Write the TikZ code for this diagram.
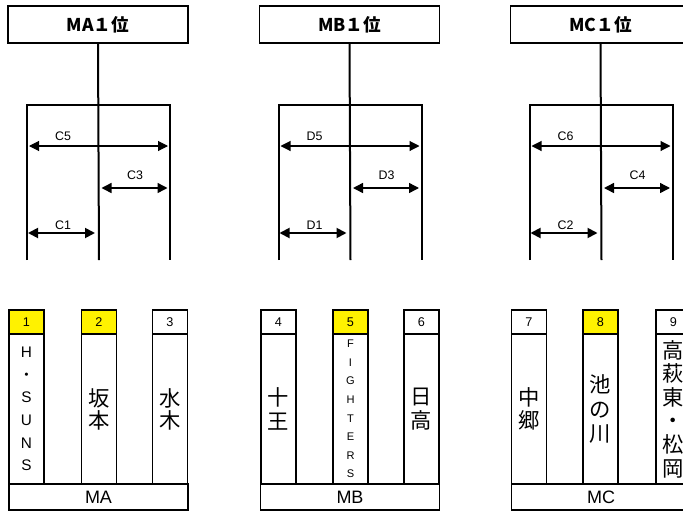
\documentclass[tikz,border=0pt]{standalone}
\usepackage{fontspec}
\setmainfont{Liberation Sans}
\newfontfamily\jp{Noto Sans CJK JP}
\usetikzlibrary{arrows.meta}
\newcommand\mycol[6]{%
  \node[hdr, fill=#4] (h#1) at (#2,322) {#3};
  \node[colbody, font=#6] (b#1) at (#2,409) {#5};
}
\begin{document}
\begin{tikzpicture}[x=0.75pt,y=-0.75pt,
  thick line/.style={line width=1.5pt},
  titlebox/.style={draw, line width=1.2pt, minimum width=135pt, minimum height=27.75pt, inner sep=0pt, font=\jp\bfseries\fontsize{13.2}{14}\selectfont},
  dim/.style={{Triangle[length=7.5pt,width=7.5pt]}-{Triangle[length=7.5pt,width=7.5pt]}, line width=0.9pt},
  dimlabel/.style={font=\fontsize{9.3}{10}\selectfont, inner sep=0pt},
  hdr/.style={draw, line width=1.4pt, minimum width=26.25pt, minimum height=18pt, inner sep=0pt, font=\fontsize{9.5}{10}\selectfont},
  colbody/.style={draw, line width=1.4pt, minimum width=26.25pt, minimum height=112.5pt, inner sep=0pt, align=center},
  grpbox/.style={draw, line width=1.4pt, minimum width=134.25pt, minimum height=19.5pt, inner sep=0pt, font=\fontsize{13.5}{14}\selectfont}
]
\useasboundingbox (0,0) rectangle (683,511);
\clip (0,0) rectangle (683,511);
\fill[white] (0,0) rectangle (683,511);

\foreach \g/\dx/\T/\L/\p/\q/\r in {A/0/MA/C/5/3/1, B/251.5/MB/D/5/3/1, C/502.5/MC/C/6/4/2}{
  \begin{scope}[shift={(\dx,0)}]
    \node[titlebox] (t\g) at (98,24.5) {\T１位};
    \coordinate (m\g) at (99,260);
    \coordinate (l\g) at (27,260);
    \coordinate (lt\g) at (27,105);
    \coordinate (rt\g) at (170,105);
    \coordinate (r\g) at (170,260);
    \draw[thick line] (t\g.south) -- (m\g);
    \draw[thick line] (l\g) -- (lt\g) -- (rt\g) -- (r\g);
    \coordinate (a1\g) at (29,146);
    \coordinate (a2\g) at (168,146);
    \coordinate (b1\g) at (101.5,188);
    \coordinate (b2\g) at (167.5,188);
    \coordinate (c1\g) at (28,233);
    \coordinate (c2\g) at (95,233);
    \draw[dim, line width=0.8pt] (a1\g) -- (a2\g);
    \draw[dim, line width=1.1pt] (b1\g) -- (b2\g);
    \draw[dim, line width=1.4pt] (c1\g) -- (c2\g);
    \node[dimlabel] (la\g) at (63,136) {\L\p};
    \node[dimlabel] (lb\g) at (135,175) {\L\q};
    \node[dimlabel] (lc\g) at (63,225) {\L\r};
  \end{scope}
}

\mycol{1}{26.5}{1}{yellow}{H\\{\jp ・}\\S\\U\\N\\S}{\fontsize{11.5}{17}\selectfont}
\mycol{2}{99}{2}{yellow}{坂\\本}{\jp\fontsize{16}{16.5}\selectfont}
\mycol{3}{170}{3}{white}{水\\木}{\jp\fontsize{16}{16.5}\selectfont}
\mycol{4}{278.5}{4}{white}{十\\王}{\jp\fontsize{16}{18}\selectfont}
\mycol{5}{350.5}{5}{yellow}{F\\I\\G\\H\\T\\E\\R\\S}{\fontsize{8.3}{13.9}\selectfont}
\mycol{6}{421.5}{6}{white}{日\\高}{\jp\fontsize{16}{18}\selectfont}
\mycol{7}{529}{7}{white}{中\\郷}{\jp\fontsize{16}{17}\selectfont}
\mycol{8}{600.5}{8}{yellow}{池\\の\\川}{\jp\fontsize{16}{18.4}\selectfont}
\mycol{9}{673.5}{9}{white}{高\\萩\\東\\・\\松\\岡}{\jp\fontsize{16}{17.7}\selectfont}

\node[grpbox] (gA) at (98.5,497) {MA};
\node[grpbox] (gB) at (350,497) {MB};
\node[grpbox] (gC) at (601,497) {MC};
\end{tikzpicture}
\end{document}
